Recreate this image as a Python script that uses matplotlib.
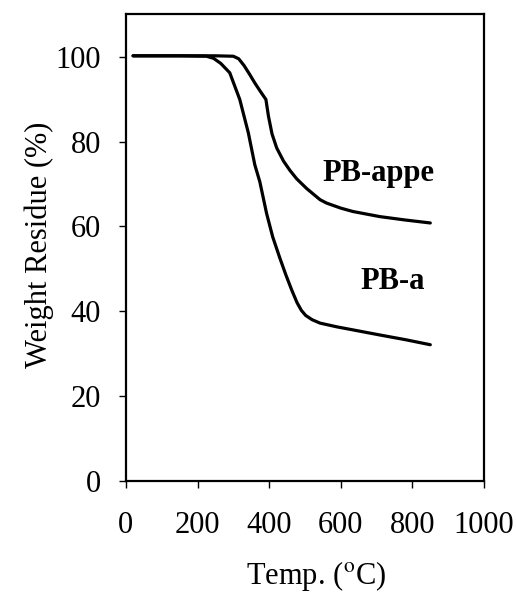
import numpy as np
import matplotlib.pyplot as plt

plt.rcParams['font.family'] = ['Liberation Serif', 'DejaVu Serif']
plt.rcParams['mathtext.fontset'] = 'stix'

# PB-a curve
t_a = [20, 150, 225, 245, 265, 290, 318, 342, 360, 374, 393, 410, 430, 447, 463, 478, 490, 502, 520, 542, 590, 634, 709, 780, 850]
w_a = [100.2, 100.2, 100.1, 99.6, 98.4, 96.2, 89.9, 82.0, 74.5, 70.5, 63.0, 57.5, 52.5, 48.5, 45.0, 42.0, 40.2, 39.0, 38.0, 37.2, 36.3, 35.6, 34.4, 33.3, 32.1]

# PB-appe curve
t_p = [20, 150, 250, 300, 315, 330, 345, 360, 374, 391, 398, 408, 421, 440, 458, 477, 505, 542, 560, 600, 634, 709, 780, 850]
w_p = [100.2, 100.2, 100.2, 100.1, 99.5, 97.9, 95.9, 93.8, 92.0, 89.9, 86.0, 81.8, 78.5, 75.4, 73.2, 71.2, 68.9, 66.3, 65.5, 64.3, 63.5, 62.3, 61.5, 60.8]

fig = plt.figure(figsize=(5.16, 5.93), dpi=100)
ax = fig.add_axes([0.244, 0.189, 0.694, 0.787])

ax.plot(t_a, w_a, color='black', lw=2.3, solid_capstyle='round', solid_joinstyle='round')
ax.plot(t_p, w_p, color='black', lw=2.3, solid_capstyle='round', solid_joinstyle='round')

ax.text(550, 72.5, 'PB-appe', fontsize=22, fontweight='bold', va='center', ha='left')
ax.text(654, 47, 'PB-a', fontsize=22, fontweight='bold', va='center', ha='left')

ax.set_xlim(0, 1000)
ax.set_ylim(0, 110)
ax.set_xticks([0, 200, 400, 600, 800, 1000])
ax.set_yticks([0, 20, 40, 60, 80, 100])

for s in ax.spines.values():
    s.set_linewidth(1.6)
ax.tick_params(direction='out', length=5, width=1, labelsize=22, top=False, right=False)
ax.tick_params(axis='x', pad=17)
ax.tick_params(axis='y', pad=13)

ax.set_xlabel('Temp. ($^{\\mathrm{o}}$C)', fontsize=22)
ax.xaxis.set_label_coords(0.53, -0.168)
ax.set_ylabel('Weight Residue (%)', fontsize=22)
ax.yaxis.set_label_coords(-0.20, 0.505)

fig.savefig('out.png', dpi=100)
